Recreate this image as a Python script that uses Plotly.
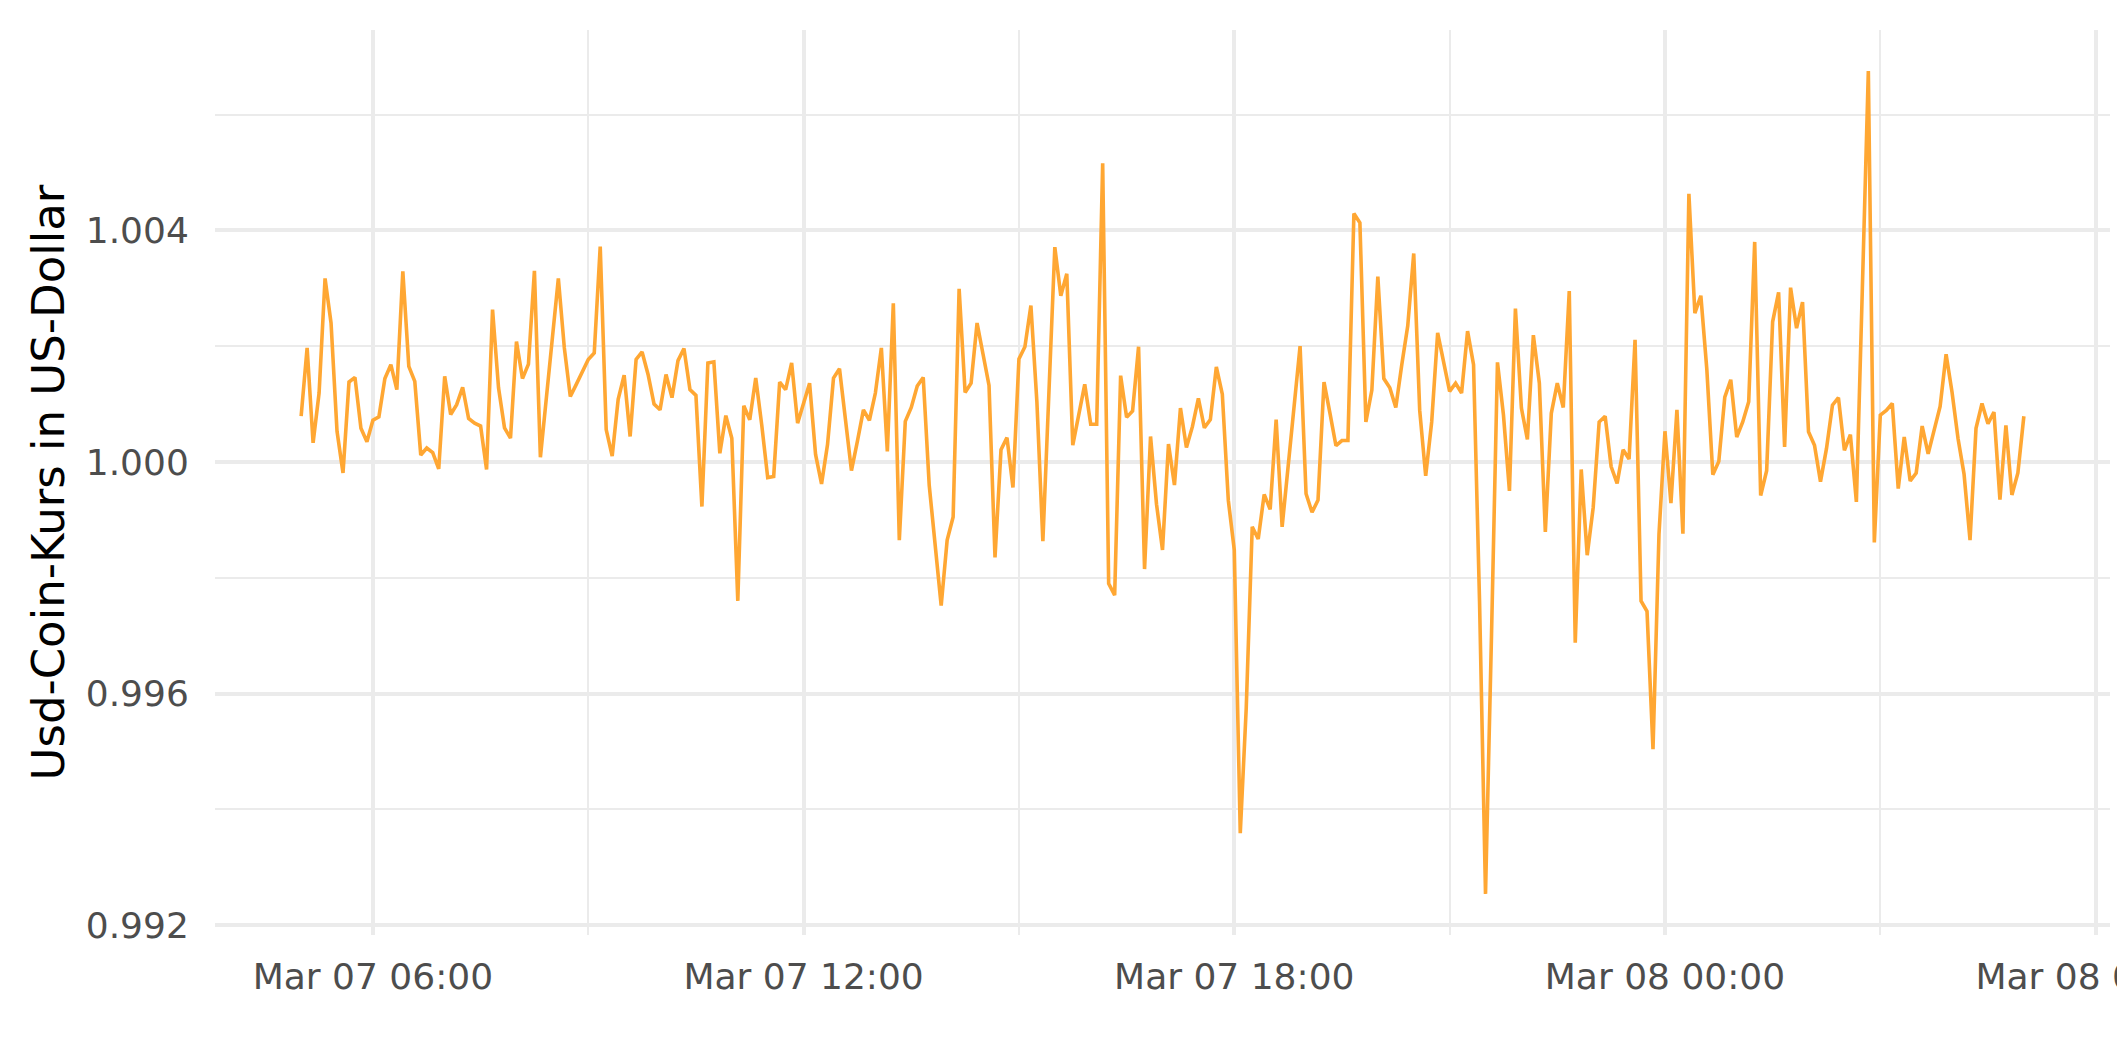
import pandas as pd
import plotly.graph_objects as go

# ---- data: USDC price, 5-minute samples from Mar 07 05:00 to Mar 08 05:00 ----
start_time = "2023-03-07 05:00"
sample_freq = "5min"

price_05_09 = [1.00079, 1.00197, 1.00033, 1.00119, 1.00317, 1.00240, 1.00053, 0.99981, 1.00138, 1.00146,
               1.00058, 1.00035, 1.00072, 1.00078, 1.00144, 1.00168, 1.00125, 1.00329, 1.00165, 1.00139,
               1.00012, 1.00024, 1.00016, 0.99988, 1.00148, 1.00082, 1.00099, 1.00129, 1.00075, 1.00067,
               1.00062, 0.99987, 1.00263, 1.00128, 1.00059, 1.00041, 1.00208, 1.00144, 1.00169, 1.00330,
               1.00008, 1.00110, 1.00220, 1.00317, 1.00197, 1.00113, 1.00134, 1.00154]
price_09_13 = [1.00177, 1.00188, 1.00372, 1.00056, 1.00010, 1.00108, 1.00150, 1.00044, 1.00177, 1.00190,
               1.00151, 1.00100, 1.00090, 1.00151, 1.00111, 1.00175, 1.00196, 1.00125, 1.00115, 0.99923,
               1.00171, 1.00173, 1.00015, 1.00080, 1.00041, 0.99760, 1.00097, 1.00073, 1.00145, 1.00064,
               0.99973, 0.99975, 1.00138, 1.00125, 1.00171, 1.00067, 1.00102, 1.00136, 1.00013, 0.99962,
               1.00030, 1.00145, 1.00161, 1.00070, 0.99985, 1.00036, 1.00090, 1.00072]
price_13_17 = [1.00119, 1.00197, 1.00018, 1.00274, 0.99865, 1.00070, 1.00094, 1.00131, 1.00146, 0.99960,
               0.99859, 0.99752, 0.99865, 0.99905, 1.00299, 1.00120, 1.00136, 1.00240, 1.00186, 1.00132,
               0.99835, 1.00021, 1.00042, 0.99956, 1.00178, 1.00199, 1.00270, 1.00104, 0.99863, 1.00110,
               1.00371, 1.00287, 1.00325, 1.00029, 1.00081, 1.00134, 1.00065, 1.00065, 1.00516, 0.99790,
               0.99770, 1.00149, 1.00077, 1.00088, 1.00199, 0.99815, 1.00044, 0.99927]
price_17_21 = [0.99848, 1.00031, 0.99960, 1.00093, 1.00025, 1.00061, 1.00110, 1.00059, 1.00073, 1.00164,
               1.00117, 0.99934, 0.99848, 0.99359, 0.99575, 0.99888, 0.99867, 0.99944, 0.99918, 1.00073,
               0.99888, 0.99994, 1.00099, 1.00200, 0.99945, 0.99913, 0.99934, 1.00138, 1.00084, 1.00028,
               1.00037, 1.00037, 1.00429, 1.00413, 1.00069, 1.00124, 1.00320, 1.00144, 1.00128, 1.00094,
               1.00168, 1.00235, 1.00360, 1.00089, 0.99976, 1.00069, 1.00223, 1.00172]
price_21_01 = [1.00122, 1.00136, 1.00119, 1.00226, 1.00168, 0.99760, 0.99254, 0.99700, 1.00172, 1.00081,
               0.99950, 1.00265, 1.00093, 1.00039, 1.00219, 1.00136, 0.99879, 1.00084, 1.00136, 1.00094,
               1.00295, 0.99688, 0.99987, 0.99839, 0.99921, 1.00069, 1.00079, 0.99992, 0.99963, 1.00021,
               1.00005, 1.00211, 0.99760, 0.99742, 0.99504, 0.99875, 1.00053, 0.99929, 1.00090, 0.99876,
               1.00463, 1.00257, 1.00287, 1.00160, 0.99978, 1.00001, 1.00112, 1.00142]
price_01_05 = [1.00043, 1.00069, 1.00104, 1.00380, 0.99942, 0.99985, 1.00242, 1.00293, 1.00026, 1.00301,
               1.00231, 1.00276, 1.00052, 1.00029, 0.99966, 1.00023, 1.00098, 1.00111, 1.00020, 1.00047,
               0.99931, 1.00300, 1.00675, 0.99861, 1.00081, 1.00089, 1.00101, 0.99954, 1.00043, 0.99967,
               0.99981, 1.00062, 1.00014, 1.00055, 1.00096, 1.00186, 1.00120, 1.00040, 0.99979, 0.99865,
               1.00058, 1.00101, 1.00066, 1.00086, 0.99935, 1.00063, 0.99943, 0.99981, 1.00079]

y_ticks = [0.992, 0.996, 1.000, 1.004]
y_title = "Usd-Coin-Kurs in US-Dollar"

price = price_05_09 + price_09_13 + price_13_17 + price_17_21 + price_21_01 + price_01_05
times = pd.date_range(start=start_time, periods=len(price), freq=sample_freq)

# ---- figure ----
W, H = 2125, 1062
ML, MR, MT, MB = 207, 23, 22, 135
LINE_COLOR = "#FFA733"
GRID = "#EBEBEB"
TICK_COLOR = "#4D4D4D"
FONT = "DejaVu Sans"

fig = go.Figure(
    go.Scatter(x=times, y=price, mode="lines",
               line=dict(color=LINE_COLOR, width=3.6), hoverinfo="x+y")
)

HOUR_MS = 3600 * 1000
fig.update_layout(
    width=W, height=H,
    margin=dict(l=ML, r=MR, t=MT, b=MB, pad=0, autoexpand=False),
    paper_bgcolor="white", plot_bgcolor="white",
    font=dict(family=FONT, color=TICK_COLOR),
    showlegend=False,
    xaxis=dict(
        type="date",
        automargin=False,
        range=["2023-03-07 03:48", "2023-03-08 06:12"],
        tick0="2023-03-07 00:00", dtick=6 * HOUR_MS,
        tickformat="%b %d %H:%M",
        ticklabeloverflow="allow",
        showgrid=True, gridcolor=GRID, gridwidth=4,
        minor=dict(tick0="2023-03-07 00:00", dtick=3 * HOUR_MS,
                   showgrid=True, gridcolor=GRID, gridwidth=2.2),
        zeroline=False, showline=False,
        ticks="outside", ticklen=10, tickcolor="rgba(0,0,0,0)",
        tickfont=dict(family=FONT, size=36, color=TICK_COLOR),
    ),
    yaxis=dict(
        automargin=False,
        range=[0.99183, 1.00746],
        tickvals=y_ticks, tickformat=".3f",
        showgrid=True, gridcolor=GRID, gridwidth=4,
        minor=dict(tick0=0.992, dtick=0.002, showgrid=True,
                   gridcolor=GRID, gridwidth=2.2),
        zeroline=False, showline=False,
        ticks="outside", ticklen=18, tickcolor="rgba(0,0,0,0)",
        tickfont=dict(family=FONT, size=36, color=TICK_COLOR),
    ),
    annotations=[dict(
        text=y_title, textangle=-90,
        xref="paper", yref="paper",
        x=(40 - ML) / (W - ML - MR), y=0.5,
        xanchor="center", yanchor="middle", showarrow=False,
        font=dict(family=FONT, size=45, color="black"),
    )],
)

fig.write_html("out.html")
